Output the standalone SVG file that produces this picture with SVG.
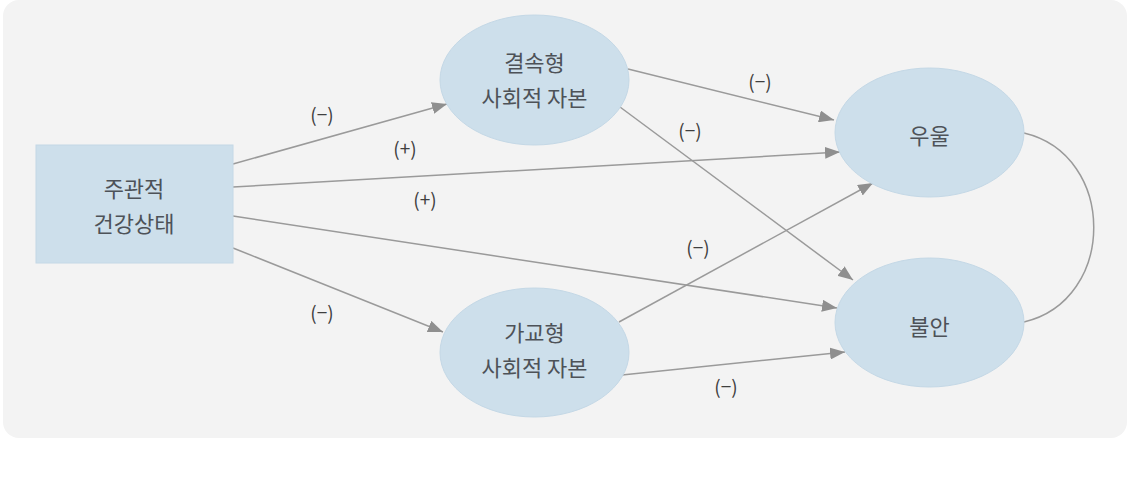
<svg xmlns="http://www.w3.org/2000/svg" width="1132" height="478" viewBox="0 0 1132 478">
<style>
.node{fill:#cddfeb;stroke:#c4d8e6;stroke-width:1}
.t{font-family:"Noto Sans CJK KR","Noto Sans",sans-serif;font-size:22px;fill:#4d5258;text-anchor:middle;dominant-baseline:central}
.lbl{font-family:"Noto Sans CJK KR","Noto Sans",sans-serif;font-size:19px;fill:#3f3f3f;text-anchor:middle;dominant-baseline:central}
.c{stroke:#9a9a9a;stroke-width:1.5;fill:none}
.a{marker-end:url(#arr)}
</style>
<defs>
<marker id="arr" markerUnits="userSpaceOnUse" markerWidth="16" markerHeight="12" viewBox="0 0 16 12" refX="15" refY="6" orient="auto">
<path d="M0,0 L15,6 L0,12 z" fill="#8f8f8f"/>
</marker>
</defs>
<rect x="3" y="0" width="1124" height="438" rx="16" fill="#f3f3f3"/>
<g id="connectors">
<line class="c a" x1="233" y1="164" x2="447" y2="104"/>
<line class="c a" x1="233" y1="187" x2="840" y2="152"/>
<line class="c a" x1="233" y1="216" x2="837" y2="308"/>
<line class="c a" x1="233" y1="248" x2="443" y2="332"/>
<line class="c a" x1="628" y1="69" x2="834" y2="120"/>
<line class="c a" x1="620" y1="107" x2="853" y2="280"/>
<line class="c a" x1="619" y1="322" x2="873" y2="183"/>
<line class="c a" x1="622" y1="375" x2="845" y2="352"/>
<path class="c" d="M1024,133 C1117,155 1117,300 1024,322"/>
</g>
<g id="labels">
<text class="lbl" x="322" y="113">(−)</text>
<text class="lbl" x="405" y="147">(+)</text>
<text class="lbl" x="425" y="198">(+)</text>
<text class="lbl" x="322" y="311">(−)</text>
<text class="lbl" x="760" y="80">(−)</text>
<text class="lbl" x="690" y="129">(−)</text>
<text class="lbl" x="698" y="246">(−)</text>
<text class="lbl" x="726" y="385">(−)</text>
</g>
<g id="health">
<rect class="node" x="36" y="145" width="197" height="118"/>
<text class="t" x="134" y="187">주관적</text>
<text class="t" x="134" y="222">건강상태</text>
</g>
<g id="bonding">
<ellipse class="node" cx="534.5" cy="80" rx="94.5" ry="65"/>
<text class="t" x="534.5" y="61">결속형</text>
<text class="t" x="534.5" y="96">사회적 자본</text>
</g>
<g id="bridging">
<ellipse class="node" cx="534.5" cy="352.5" rx="94.5" ry="64.5"/>
<text class="t" x="534.5" y="331">가교형</text>
<text class="t" x="534.5" y="366">사회적 자본</text>
</g>
<g id="depression">
<ellipse class="node" cx="929.5" cy="132.5" rx="94.5" ry="64.5"/>
<text class="t" x="929.5" y="134">우울</text>
</g>
<g id="anxiety">
<ellipse class="node" cx="929.5" cy="322.5" rx="94.5" ry="64.5"/>
<text class="t" x="929.5" y="325">불안</text>
</g>
</svg>
